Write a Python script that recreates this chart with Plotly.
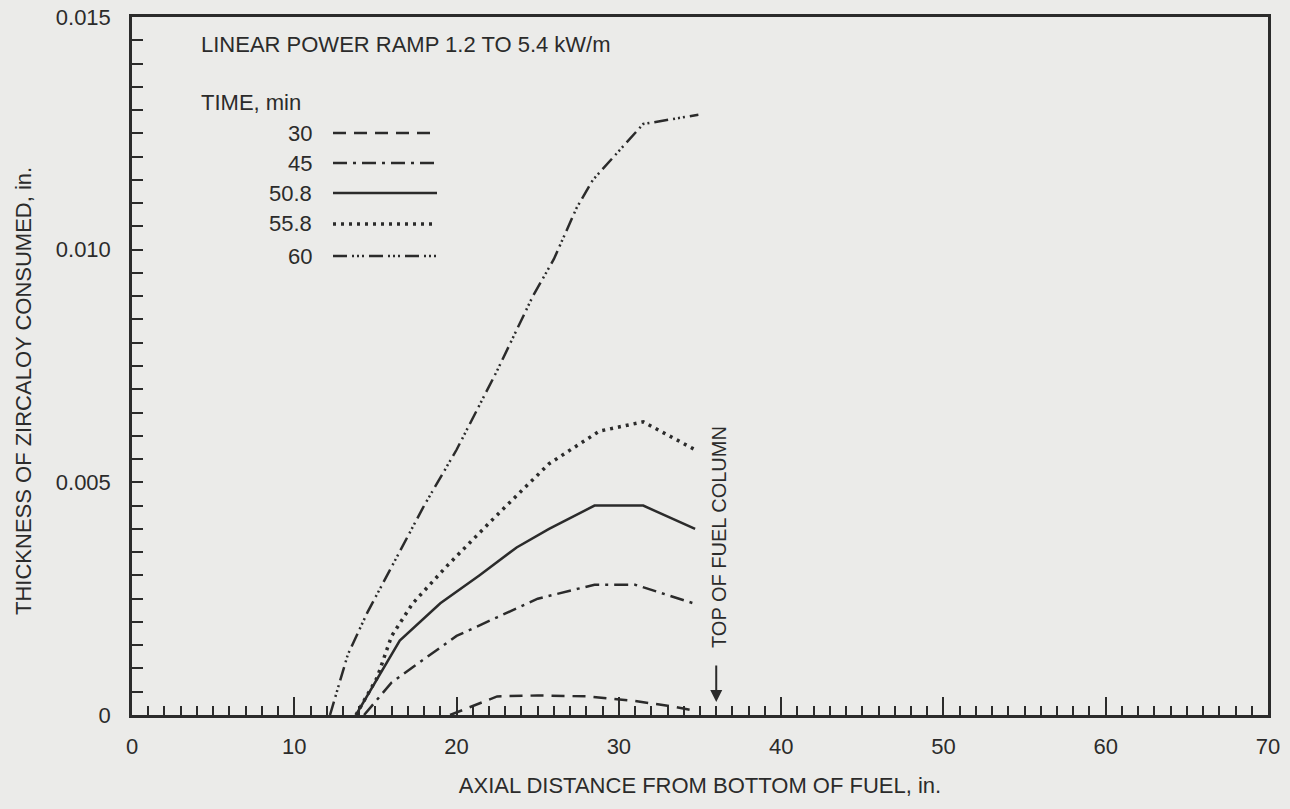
import plotly.graph_objects as go

# ---------------- data ----------------
series_names = ["30", "45", "50.8", "55.8", "60"]

x_30 = [19.6, 21.0, 22.5, 25.0, 28.0, 31.0, 33.0, 34.6]
y_30 = [0.0, 0.0002, 0.0004, 0.00042, 0.0004, 0.0003, 0.0002, 0.0001]

x_45 = [14.3, 16.0, 18.0, 20.0, 22.5, 25.0, 28.5, 31.0, 34.6]
y_45 = [0.0, 0.0007, 0.0012, 0.0017, 0.0021, 0.0025, 0.0028, 0.0028, 0.0024]

x_508 = [13.8, 16.5, 19.0, 21.4, 23.7, 25.7, 28.5, 31.5, 34.7]
y_508 = [0.0, 0.0016, 0.0024, 0.0030, 0.0036, 0.0040, 0.0045, 0.0045, 0.0040]

x_558 = [13.8, 15.1, 16.0, 17.3, 19.4, 22.5, 25.7, 28.8, 31.5, 34.7]
y_558 = [0.0, 0.0008, 0.0017, 0.0024, 0.0032, 0.0043, 0.0054, 0.0061, 0.0063, 0.0057]

x_60 = [12.2, 13.3, 14.5, 16.3, 18.0, 20.0, 22.5, 24.7, 26.0, 27.4, 28.4, 31.5, 34.9]
y_60 = [0.0, 0.0013, 0.0022, 0.0034, 0.0045, 0.0057, 0.0074, 0.0090, 0.0098, 0.0109, 0.0115, 0.0127, 0.0129]

x_tick_vals = [0, 10, 20, 30, 40, 50, 60, 70]
y_tick_vals = [0, 0.005, 0.010, 0.015]
y_tick_text = ["0", "0.005", "0.010", "0.015"]

top_of_fuel_x = 36.0

# ---------------- styling ----------------
W, H = 1290, 809
L, R, T, B = 132, 22, 17, 94
PW, PH = W - L - R, H - T - B
INK = "#2b2b2b"
BG = "#ebebe9"
FONT = "Liberation Sans, Arial, sans-serif"
FS = 22

dashes = {
    "30": "13px,8px",
    "45": "14px,6px,3px,6px",
    "50.8": "solid",
    "55.8": "3px,5px",
    "60": "14px,5px,2px,3px,2px,3px,2px,5px",
}
widths = {"30": 2.5, "45": 2.5, "50.8": 2.5, "55.8": 3.5, "60": 2.5}

data = {
    "30": (x_30, y_30),
    "45": (x_45, y_45),
    "50.8": (x_508, y_508),
    "55.8": (x_558, y_558),
    "60": (x_60, y_60),
}


def px(xp):
    return (xp - L) / PW


def py(yp):
    return (H - B - yp) / PH


fig = go.Figure()
for name in series_names:
    xs, ys = data[name]
    fig.add_trace(go.Scatter(
        x=xs, y=ys, mode="lines", name=name, showlegend=False,
        line=dict(color=INK, width=widths[name], dash=dashes[name]),
    ))

annotations = []
shapes = []

# header texts
annotations.append(dict(text="LINEAR POWER RAMP 1.2 TO 5.4 kW/m", xref="paper", yref="paper",
                        x=px(199), y=py(44), xanchor="left", yanchor="middle", showarrow=False,
                        font=dict(size=FS, color=INK, family=FONT)))
annotations.append(dict(text="TIME, min", xref="paper", yref="paper",
                        x=px(199), y=py(103), xanchor="left", yanchor="middle", showarrow=False,
                        font=dict(size=FS, color=INK, family=FONT)))

# legend drawn beside the header
legend_rows = [133, 163, 193, 224, 256]
for name, yrow in zip(series_names, legend_rows):
    annotations.append(dict(text=name, xref="paper", yref="paper",
                            x=px(314), y=py(yrow), xanchor="right", yanchor="middle",
                            showarrow=False, font=dict(size=FS, color=INK, family=FONT)))
    shapes.append(dict(type="line", xref="paper", yref="paper",
                       x0=px(333), x1=px(437), y0=py(yrow), y1=py(yrow),
                       line=dict(color=INK, width=widths[name], dash=dashes[name])))

# top of fuel column marker
annotations.append(dict(text="TOP OF FUEL COLUMN", x=top_of_fuel_x, y=0.00383, xref="x", yref="y",
                        textangle=-90, showarrow=False, xanchor="center", yanchor="middle",
                        xshift=3, font=dict(size=20, color=INK, family=FONT)))
annotations.append(dict(text="", x=top_of_fuel_x, y=0.00028, xref="x", yref="y",
                        showarrow=True, arrowhead=2, arrowsize=1.2, arrowwidth=2,
                        arrowcolor=INK, ax=0, ay=-38))

# y-axis title
annotations.append(dict(text="THICKNESS OF ZIRCALOY CONSUMED, in.", xref="paper", yref="paper",
                        x=px(23), y=py(391), textangle=-90, showarrow=False,
                        xanchor="center", yanchor="middle",
                        font=dict(size=FS, color=INK, family=FONT)))

fig.update_layout(
    width=W, height=H,
    margin=dict(l=L, r=R, t=T, b=B, autoexpand=False),
    paper_bgcolor=BG, plot_bgcolor=BG,
    font=dict(family=FONT, size=FS, color=INK),
    annotations=annotations, shapes=shapes,
    showlegend=False,
)

fig.update_xaxes(
    range=[0, 70], tickvals=x_tick_vals, ticks="inside", ticklen=18, tickwidth=2,
    tickcolor=INK, showline=True, linecolor=INK, linewidth=2.5, mirror=True,
    showgrid=False, zeroline=False, ticklabelstandoff=10,
    minor=dict(dtick=1, ticks="inside", ticklen=9, tickwidth=2, tickcolor=INK, showgrid=False),
    tickfont=dict(size=FS, color=INK, family=FONT),
    title=dict(text="AXIAL DISTANCE FROM BOTTOM OF FUEL, in.", standoff=20,
               font=dict(size=FS, color=INK, family=FONT)),
)
fig.update_yaxes(
    range=[0, 0.015], tickvals=y_tick_vals, ticktext=y_tick_text, ticks="inside",
    ticklen=11, tickwidth=2, tickcolor=INK, showline=True, linecolor=INK, linewidth=2.5,
    mirror=True, showgrid=False, zeroline=False, ticklabelstandoff=14,
    minor=dict(dtick=0.0005, ticks="inside", ticklen=11, tickwidth=2, tickcolor=INK, showgrid=False),
    tickfont=dict(size=FS, color=INK, family=FONT),
)

fig.write_html("out.html")
